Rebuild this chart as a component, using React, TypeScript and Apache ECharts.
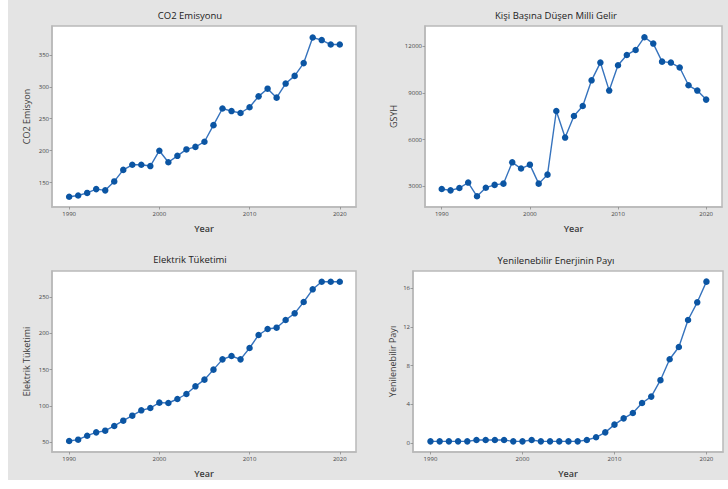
import React, { useEffect, useRef } from "react";
import * as echarts from "echarts";

const years = [1990, 1991, 1992, 1993, 1994, 1995, 1996, 1997, 1998, 1999, 2000, 2001, 2002, 2003, 2004, 2005, 2006, 2007, 2008, 2009, 2010, 2011, 2012, 2013, 2014, 2015, 2016, 2017, 2018, 2019, 2020];
const co2 = [128, 130, 134, 140, 138, 152, 170, 178, 178, 176, 200, 182, 192, 202, 206, 214, 240, 266, 262, 259, 268, 285, 297, 283, 305, 317, 337, 377, 373, 366, 366];
const gsyh = [2830, 2740, 2890, 3240, 2360, 2910, 3090, 3170, 4540, 4140, 4390, 3170, 3750, 7840, 6130, 7520, 8160, 9810, 10950, 9150, 10780, 11440, 11760, 12580, 12170, 11010, 10950, 10630, 9490, 9150, 8570];
const elektrik = [51.4, 53.2, 58.7, 63.3, 65.6, 72.1, 79.4, 86.3, 93.7, 96.9, 104.3, 103.8, 109.3, 116.2, 126.8, 136, 149.8, 164, 168.6, 164, 179.7, 197.6, 205.9, 207.7, 218.3, 227.5, 243.1, 260.6, 271.1, 271.1, 271.1];
const yenilenebilir = [0.17, 0.17, 0.17, 0.17, 0.17, 0.31, 0.31, 0.31, 0.31, 0.17, 0.17, 0.31, 0.17, 0.17, 0.17, 0.17, 0.17, 0.31, 0.59, 1.1, 1.9, 2.55, 3.1, 4.14, 4.8, 6.5, 8.66, 9.93, 12.72, 14.55, 16.69];

const xTicks = [1990, 2000, 2010, 2020];
const co2Ticks = [150, 200, 250, 300, 350];
const gsyhTicks = [3000, 6000, 9000, 12000];
const elektrikTicks = [50, 100, 150, 200, 250];
const yenTicks = [0, 4, 8, 12, 16];

const titles = ["CO2 Emisyonu", "Kişi Başına Düşen Milli Gelir", "Elektrik Tüketimi", "Yenilenebilir Enerjinin Payı"];
const yNames = ["CO2 Emisyon", "GSYH", "Elektrik Tüketimi", "Yenilenebilir Payı"];
const xName = "Year";

const FONT = "'Segoe UI', 'Open Sans', sans-serif";

export default function App() {
  const ref = useRef<HTMLDivElement>(null);
  useEffect(() => {
    if (!ref.current) return;
    const chart = echarts.init(ref.current, null, { renderer: "svg" });

    const grids = [
      { left: 52, top: 26, width: 304, height: 181 },
      { left: 425, top: 26, width: 297, height: 181 },
      { left: 52, top: 271, width: 304, height: 181 },
      { left: 413, top: 271, width: 310, height: 181 },
    ];
    const yDefs = [
      { min: 112, max: 395, ticks: co2Ticks, data: co2, gap: 21 },
      { min: 1670, max: 13300, ticks: gsyhTicks, data: gsyh, gap: 27 },
      { min: 36.2, max: 285.9, ticks: elektrikTicks, data: elektrik, gap: 21 },
      { min: -0.93, max: 17.79, ticks: yenTicks, data: yenilenebilir, gap: 16 },
    ];
    const titlePos = [
      [190, 15],
      [556, 15],
      [190, 259],
      [556, 260],
    ];

    const axisLineStyle = { color: "#b9b9b9", width: 1.5 };
    const plain = (v: number) => String(v);

    const option: any = {
      animation: false,
      backgroundColor: "transparent",
      grid: grids.map((g) => ({
        ...g,
        show: true,
        backgroundColor: "#ffffff",
        borderColor: "#b9b9b9",
        borderWidth: 1.5,
        containLabel: false,
      })),
      xAxis: grids.map((_, i) => ({
        type: "value",
        gridIndex: i,
        min: 1988.1,
        max: 2021.8,
        name: xName,
        nameLocation: "middle",
        nameGap: 17,
        nameTextStyle: { fontFamily: FONT, fontSize: 9, color: "#3a3a3a", fontWeight: 600 },
        axisLine: { show: true, onZero: false, lineStyle: axisLineStyle },
        axisTick: { show: true, length: 2.5, customValues: xTicks, lineStyle: { color: "#8a8a8a", width: 0.8 } },
        axisLabel: { customValues: xTicks, formatter: plain, fontFamily: FONT, fontSize: 6, color: "#444", margin: 4 },
        splitLine: { show: false },
      })),
      yAxis: yDefs.map((d, i) => ({
        type: "value",
        gridIndex: i,
        min: d.min,
        max: d.max,
        name: yNames[i],
        nameLocation: "middle",
        nameGap: d.gap,
        nameTextStyle: { fontFamily: FONT, fontSize: 9, color: "#3a3a3a" },
        axisLine: { show: true, onZero: false, lineStyle: axisLineStyle },
        axisTick: { show: true, length: 2.5, customValues: d.ticks, lineStyle: { color: "#8a8a8a", width: 0.8 } },
        axisLabel: { customValues: d.ticks, formatter: plain, fontFamily: FONT, fontSize: 6, color: "#444", margin: 3 },
        splitLine: { show: false },
      })),
      graphic: titles.map((t, i) => ({
        type: "text",
        x: titlePos[i][0],
        y: titlePos[i][1],
        style: {
          text: t,
          fontFamily: FONT,
          fontSize: 9.5,
          fill: "#222",
          textAlign: "center",
          textVerticalAlign: "middle",
        },
      })),
      series: yDefs.map((d, i) => ({
        type: "line",
        xAxisIndex: i,
        yAxisIndex: i,
        data: years.map((y, k) => [y, d.data[k]]),
        symbol: "circle",
        symbolSize: 6.5,
        itemStyle: { color: "#0b55a3" },
        lineStyle: { color: "#3673bd", width: 1.4 },
      })),
    };
    chart.setOption(option);
    return () => chart.dispose();
  }, []);

  return (
    <div style={{ position: "fixed", left: 0, top: 0, width: 728, height: 489, background: "#ffffff" }}>
      <div style={{ position: "absolute", left: 8, top: 0, width: 720, height: 480, background: "#e4e4e4" }} />
      <div ref={ref} style={{ position: "absolute", left: 0, top: 0, width: 728, height: 489 }} />
    </div>
  );
}
